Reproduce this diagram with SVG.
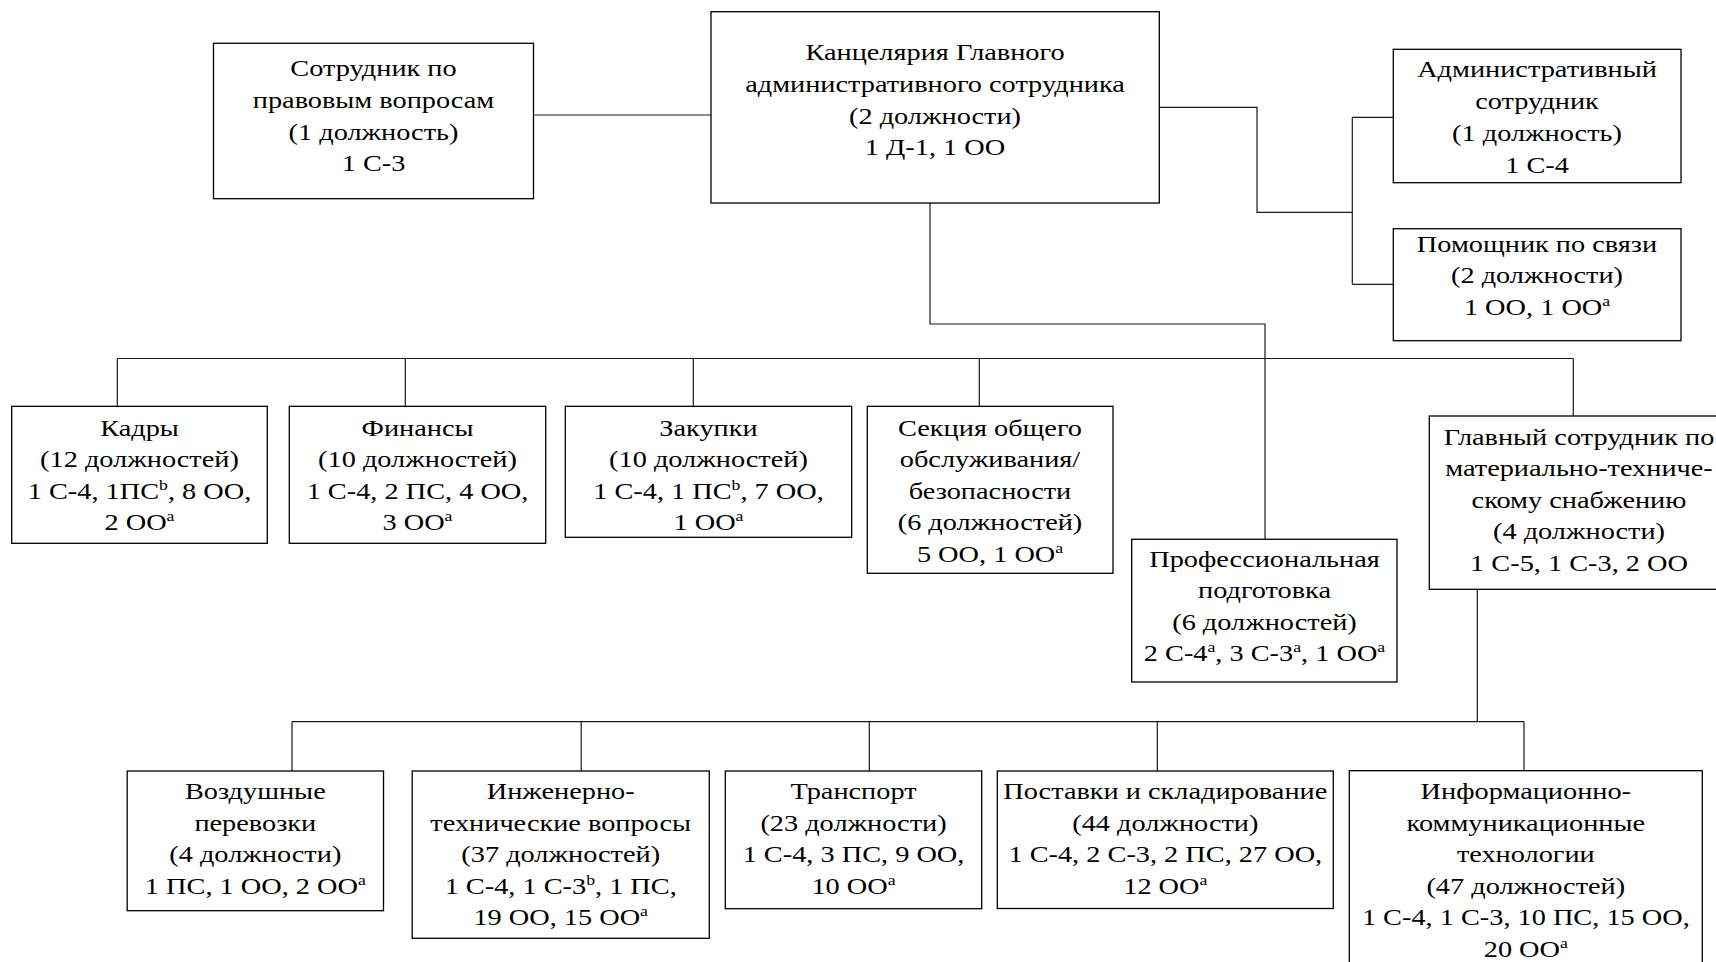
<svg xmlns="http://www.w3.org/2000/svg" width="1716" height="962" viewBox="0 0 1716 962">
<style>
.bg{fill:#fff}
.box{fill:#fff;stroke:#000;stroke-width:1.3}
.c{fill:none;stroke:#1a1a1a;stroke-width:1.2}
.t{font-family:"Liberation Serif","Times New Roman",serif;font-size:24px;fill:#000;text-anchor:middle}
.s{font-size:15px}
</style>
<rect class="bg" x="0" y="0" width="1716" height="962"/>
<g id="connectors">
<path class="c" d="M533.5 115H711"/>
<path class="c" d="M1159.3 107.3H1257V212.3H1352.3"/>
<path class="c" d="M1352.3 117.3V284.3M1352.3 117.3H1393.3M1352.3 284.3H1393.3"/>
<path class="c" d="M930 203V324H1265V539.3"/>
<path class="c" d="M117.3 358.5H1573.3M117.3 358.5V406.3M405.3 358.5V406.3M693.3 358.5V406.3M979.3 358.5V406.3M1573.3 358.5V416"/>
<path class="c" d="M1477.3 589.3V721.7"/>
<path class="c" d="M292 721.7H1524M292 721.7V771M581.2 721.7V771M869.3 721.7V771M1157.3 721.7V771M1524 721.7V771"/>
</g>
<g id="legal">
<rect class="box" x="213.5" y="43.3" width="320" height="155.4"/>
<text class="t" transform="translate(373.5 0) scale(1.18 1)"><tspan x="0" y="76">Сотрудник по</tspan><tspan x="0" y="107.8">правовым вопросам</tspan><tspan x="0" y="139.6">(1 должность)</tspan><tspan x="0" y="171.4">1 С-3</tspan></text>
</g>
<g id="main">
<rect class="box" x="711" y="11.7" width="448.3" height="191.3"/>
<text class="t" transform="translate(935 0) scale(1.18 1)"><tspan x="0" y="60">Канцелярия Главного</tspan><tspan x="0" y="91.8">административного сотрудника</tspan><tspan x="0" y="123.6">(2 должности)</tspan><tspan x="0" y="155.4">1 Д-1, 1 ОО</tspan></text>
</g>
<g id="admin">
<rect class="box" x="1393.3" y="49.3" width="287.7" height="133.4"/>
<text class="t" transform="translate(1537 0) scale(1.18 1)"><tspan x="0" y="77">Административный</tspan><tspan x="0" y="109">сотрудник</tspan><tspan x="0" y="141.3">(1 должность)</tspan><tspan x="0" y="173.5">1 С-4</tspan></text>
</g>
<g id="comm">
<rect class="box" x="1393.3" y="228.7" width="287.7" height="112"/>
<text class="t" transform="translate(1537 0) scale(1.18 1)"><tspan x="0" y="252">Помощник по связи</tspan><tspan x="0" y="283.5">(2 должности)</tspan><tspan x="0" y="315">1 ОО, 1 ОО<tspan class="s" dy="-9">a</tspan></tspan></text>
</g>
<g id="kadry">
<rect class="box" x="11.7" y="406.3" width="255.6" height="137"/>
<text class="t" transform="translate(139.5 0) scale(1.18 1)"><tspan x="0" y="436">Кадры</tspan><tspan x="0" y="467.5">(12 должностей)</tspan><tspan x="0" y="499">1 С-4, 1ПС<tspan class="s" dy="-9">b</tspan><tspan dy="9">, 8 ОО,</tspan></tspan><tspan x="0" y="530.5">2 ОО<tspan class="s" dy="-9">a</tspan></tspan></text>
</g>
<g id="finansy">
<rect class="box" x="289.3" y="406.3" width="256.4" height="137"/>
<text class="t" transform="translate(417.5 0) scale(1.18 1)"><tspan x="0" y="436">Финансы</tspan><tspan x="0" y="467.5">(10 должностей)</tspan><tspan x="0" y="499">1 С-4, 2 ПС, 4 ОО,</tspan><tspan x="0" y="530.5">3 ОО<tspan class="s" dy="-9">a</tspan></tspan></text>
</g>
<g id="zakupki">
<rect class="box" x="565.3" y="406.3" width="286.4" height="131"/>
<text class="t" transform="translate(708.5 0) scale(1.18 1)"><tspan x="0" y="436">Закупки</tspan><tspan x="0" y="467.5">(10 должностей)</tspan><tspan x="0" y="499">1 С-4, 1 ПС<tspan class="s" dy="-9">b</tspan><tspan dy="9">, 7 ОО,</tspan></tspan><tspan x="0" y="530.5">1 ОО<tspan class="s" dy="-9">a</tspan></tspan></text>
</g>
<g id="sekcia">
<rect class="box" x="867.3" y="406.3" width="245.7" height="167"/>
<text class="t" transform="translate(990 0) scale(1.18 1)"><tspan x="0" y="436">Секция общего</tspan><tspan x="0" y="467.5">обслуживания/</tspan><tspan x="0" y="499">безопасности</tspan><tspan x="0" y="530.5">(6 должностей)</tspan><tspan x="0" y="562">5 ОО, 1 ОО<tspan class="s" dy="-9">a</tspan></tspan></text>
</g>
<g id="prof">
<rect class="box" x="1131.7" y="539.3" width="265.3" height="142.7"/>
<text class="t" transform="translate(1264.5 0) scale(1.18 1)"><tspan x="0" y="567">Профессиональная</tspan><tspan x="0" y="598.5">подготовка</tspan><tspan x="0" y="630">(6 должностей)</tspan><tspan x="0" y="661.5">2 С-4<tspan class="s" dy="-9">a</tspan><tspan dy="9">, 3 С-3</tspan><tspan class="s" dy="-9">a</tspan><tspan dy="9">, 1 ОО</tspan><tspan class="s" dy="-9">a</tspan></tspan></text>
</g>
<g id="glavny">
<rect class="box" x="1429.3" y="416" width="300" height="173.3"/>
<text class="t" transform="translate(1579 0) scale(1.18 1)"><tspan x="0" y="445">Главный сотрудник по</tspan><tspan x="0" y="476.5">материально-техниче-</tspan><tspan x="0" y="508">скому снабжению</tspan><tspan x="0" y="539.5">(4 должности)</tspan><tspan x="0" y="571">1 С-5, 1 С-3, 2 ОО</tspan></text>
</g>
<g id="vozdushnye">
<rect class="box" x="127.2" y="771" width="256.3" height="139.7"/>
<text class="t" transform="translate(255.3 0) scale(1.18 1)"><tspan x="0" y="799.5">Воздушные</tspan><tspan x="0" y="831">перевозки</tspan><tspan x="0" y="862.5">(4 должности)</tspan><tspan x="0" y="894">1 ПС, 1 ОО, 2 ОО<tspan class="s" dy="-9">a</tspan></tspan></text>
</g>
<g id="inzh">
<rect class="box" x="412.2" y="771" width="297.1" height="167.3"/>
<text class="t" transform="translate(560.7 0) scale(1.18 1)"><tspan x="0" y="799.5">Инженерно-</tspan><tspan x="0" y="831">технические вопросы</tspan><tspan x="0" y="862.5">(37 должностей)</tspan><tspan x="0" y="894">1 С-4, 1 С-3<tspan class="s" dy="-9">b</tspan><tspan dy="9">, 1 ПС,</tspan></tspan><tspan x="0" y="925.5">19 ОО, 15 ОО<tspan class="s" dy="-9">a</tspan></tspan></text>
</g>
<g id="transport">
<rect class="box" x="725.3" y="771" width="256.4" height="137.7"/>
<text class="t" transform="translate(853.5 0) scale(1.18 1)"><tspan x="0" y="799.5">Транспорт</tspan><tspan x="0" y="831">(23 должности)</tspan><tspan x="0" y="862.5">1 С-4, 3 ПС, 9 ОО,</tspan><tspan x="0" y="894">10 ОО<tspan class="s" dy="-9">a</tspan></tspan></text>
</g>
<g id="postavki">
<rect class="box" x="997.3" y="771" width="336" height="137.5"/>
<text class="t" transform="translate(1165.3 0) scale(1.18 1)"><tspan x="0" y="799.5">Поставки и складирование</tspan><tspan x="0" y="831">(44 должности)</tspan><tspan x="0" y="862.5">1 С-4, 2 С-3, 2 ПС, 27 ОО,</tspan><tspan x="0" y="894">12 ОО<tspan class="s" dy="-9">a</tspan></tspan></text>
</g>
<g id="ict">
<rect class="box" x="1349.3" y="770.7" width="353" height="200"/>
<text class="t" transform="translate(1525.8 0) scale(1.18 1)"><tspan x="0" y="799.5">Информационно-</tspan><tspan x="0" y="831">коммуникационные</tspan><tspan x="0" y="862.5">технологии</tspan><tspan x="0" y="894">(47 должностей)</tspan><tspan x="0" y="925.5">1 С-4, 1 С-3, 10 ПС, 15 ОО,</tspan><tspan x="0" y="957">20 ОО<tspan class="s" dy="-9">a</tspan></tspan></text>
</g>
</svg>
